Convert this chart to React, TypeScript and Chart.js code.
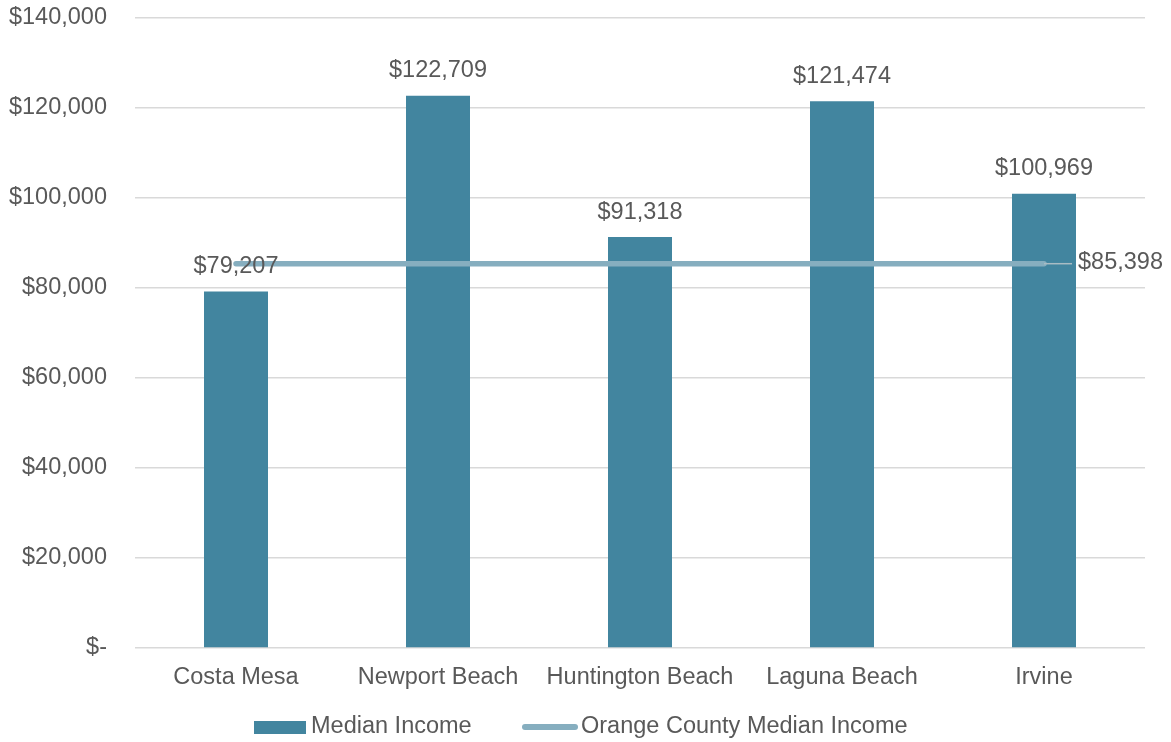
import React, { useEffect, useRef } from "react";
import { Chart, registerables } from "chart.js";

Chart.register(...registerables);

const categories = ["Costa Mesa", "Newport Beach", "Huntington Beach", "Laguna Beach", "Irvine"];
const medianIncome = [79207, 122709, 91318, 121474, 100969];
const countyMedian = [85398, 85398, 85398, 85398, 85398];
const yTicks = [0, 20000, 40000, 60000, 80000, 100000, 120000, 140000];
const legendLabels = ["Median Income", "Orange County Median Income"];

const BAR_COLOR = "#42859F";
const LINE_COLOR = "#86AEBF";
const TEXT_COLOR = "#595959";
const GRID_COLOR = "#D9D9D9";
const FONT_FAMILY = "'Liberation Sans', Arial, sans-serif";
const FONT_SIZE = 23.5;

const fmt = (v: number) => (v === 0 ? "$-" : "$" + v.toLocaleString("en-US"));

const labelsPlugin = {
  id: "customLabels",
  afterDatasetsDraw(chart: any) {
    const ctx = chart.ctx;
    ctx.save();
    ctx.font = `${FONT_SIZE}px ${FONT_FAMILY}`;
    ctx.fillStyle = TEXT_COLOR;
    // bar labels
    const barMeta = chart.getDatasetMeta(0);
    barMeta.data.forEach((el: any, i: number) => {
      ctx.textAlign = "center";
      ctx.textBaseline = "middle";
      ctx.fillText(fmt(medianIncome[i]), el.x, el.y - 25);
    });
    // line end label with leader
    const lineMeta = chart.getDatasetMeta(1);
    const last = lineMeta.data[lineMeta.data.length - 1];
    ctx.strokeStyle = "#A9BCC4";
    ctx.lineWidth = 1.5;
    ctx.beginPath();
    ctx.moveTo(last.x, last.y);
    ctx.lineTo(last.x + 28, last.y);
    ctx.stroke();
    ctx.textAlign = "left";
    ctx.textBaseline = "middle";
    ctx.fillText(fmt(countyMedian[countyMedian.length - 1]), last.x + 34, last.y - 1);

    // legend
    const ly = 727;
    ctx.fillStyle = BAR_COLOR;
    ctx.fillRect(254, ly - 6, 52, 13);
    ctx.fillStyle = TEXT_COLOR;
    ctx.fillText(legendLabels[0], 311, ly);
    ctx.strokeStyle = LINE_COLOR;
    ctx.lineWidth = 6;
    ctx.lineCap = "round";
    ctx.beginPath();
    ctx.moveTo(525, ly);
    ctx.lineTo(575, ly);
    ctx.stroke();
    ctx.fillText(legendLabels[1], 581, ly);
    ctx.restore();
  },
};

export default function App() {
  const canvasRef = useRef<HTMLCanvasElement | null>(null);

  useEffect(() => {
    if (!canvasRef.current) return;
    const chart = new Chart(canvasRef.current, {
      type: "bar",
      data: {
        labels: categories,
        datasets: [
          {
            type: "bar",
            label: legendLabels[0],
            data: medianIncome,
            backgroundColor: BAR_COLOR,
            barPercentage: 64 / 202,
            categoryPercentage: 1,
            order: 1,
          },
          {
            type: "line",
            label: legendLabels[1],
            data: countyMedian,
            borderColor: LINE_COLOR,
            borderWidth: 5.5,
            borderCapStyle: "round",
            pointRadius: 0,
            fill: false,
            order: 0,
          } as any,
        ],
      },
      options: {
        animation: false,
        responsive: true,
        maintainAspectRatio: false,
        layout: { padding: { top: 18, right: 26, bottom: 46, left: 0 } },
        plugins: {
          legend: { display: false },
          tooltip: { enabled: false },
        },
        scales: {
          x: {
            grid: { display: false, drawTicks: false },
            border: { display: false },
            ticks: {
              color: TEXT_COLOR,
              font: { family: FONT_FAMILY, size: FONT_SIZE },
              padding: 15,
              maxRotation: 0,
            },
            afterFit(scale: any) {
              scale.height = 48;
              scale.paddingLeft = 0;
              scale.paddingRight = 0;
            },
          },
          y: {
            min: 0,
            max: 140000,
            afterBuildTicks(scale: any) {
              scale.ticks = yTicks.map((v) => ({ value: v }));
            },
            grid: { color: GRID_COLOR, lineWidth: 1.5, drawTicks: false },
            border: { display: false },
            ticks: {
              color: TEXT_COLOR,
              font: { family: FONT_FAMILY, size: FONT_SIZE },
              padding: 28,
              callback: (v: any) => fmt(Number(v)),
            },
            afterFit(scale: any) {
              scale.width = 135;
              scale.paddingTop = 0;
              scale.paddingBottom = 0;
            },
          },
        },
      },
      plugins: [labelsPlugin],
    });
    return () => chart.destroy();
  }, []);

  return (
    <div style={{ position: "fixed", left: 0, top: 0, width: 1171, height: 742, background: "#fff" }}>
      <canvas ref={canvasRef} />
    </div>
  );
}
